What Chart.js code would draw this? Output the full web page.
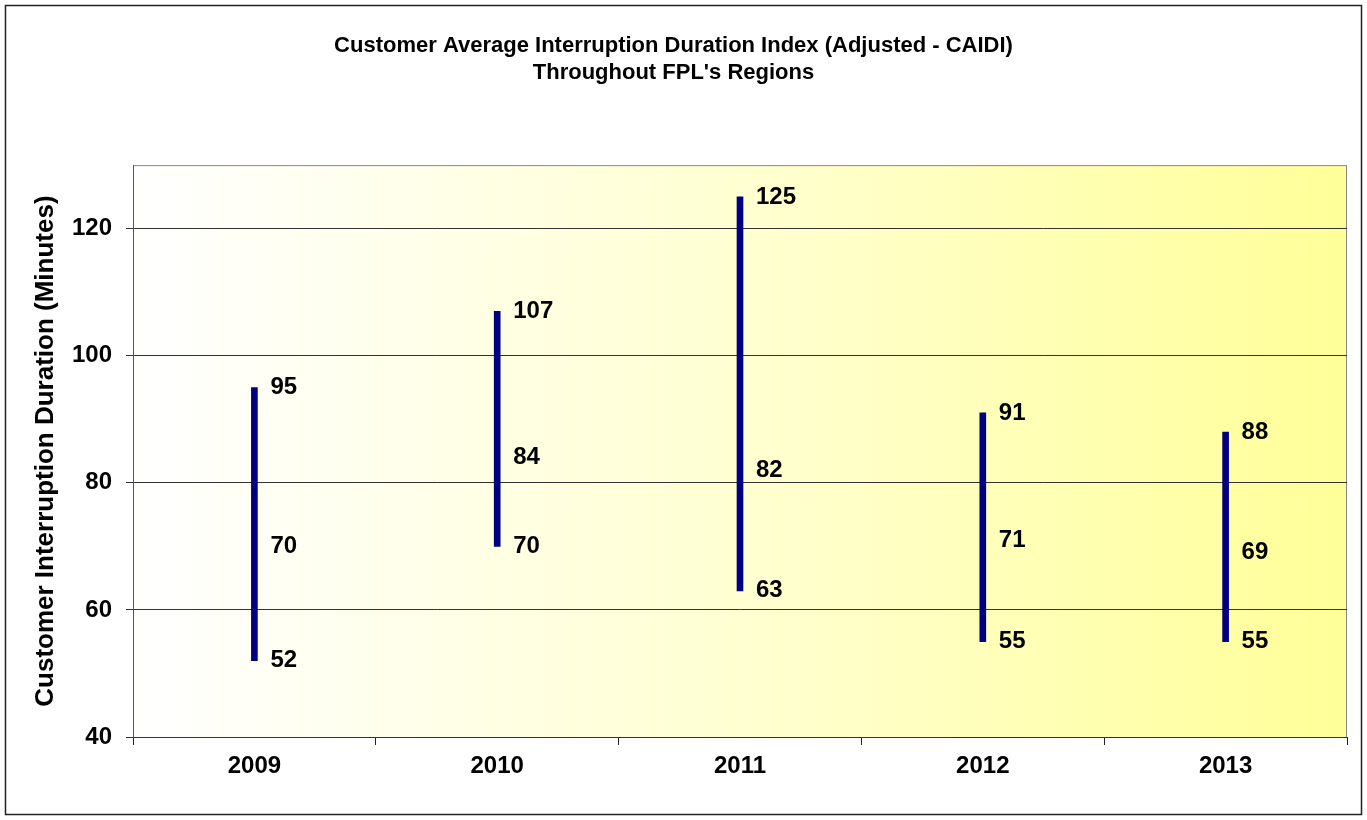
<!DOCTYPE html>
<html>
<head>
<meta charset="utf-8">
<script src="https://cdn.jsdelivr.net/npm/chart.js@4"></script>
<style>
  html, body { margin: 0; padding: 0; background: #fff; }
</style>
</head>
<body>
<canvas id="caidiChart" width="1367" height="820"></canvas>
<script>
// CAIDI by year: high / average / low across regions (minutes)
const years = ["2009", "2010", "2011", "2012", "2013"];
const highs = [95, 107, 125, 91, 88];
const avgs = [70, 84, 82, 71, 69];
const lows = [52, 70, 63, 55, 55];
const yTicks = [40, 60, 80, 100, 120];

const FONT = "'Liberation Sans Narrow', 'Arial Narrow', 'Liberation Sans', Arial, sans-serif";

// page frame + yellow gradient behind the plot
const backdrop = {
  id: "backdrop",
  beforeDraw(chart) {
    const { ctx, chartArea: a, width, height } = chart;
    ctx.save();
    ctx.fillStyle = "#fff";
    ctx.fillRect(0, 0, width, height);
    ctx.strokeStyle = "#222";
    ctx.lineWidth = 1.5;
    ctx.strokeRect(5.5, 5.5, width - 11, height - 11);
    const g = ctx.createLinearGradient(a.left, 0, a.right, 0);
    g.addColorStop(0, "#ffffff");
    g.addColorStop(0.5, "#ffffd2");
    g.addColorStop(1, "#ffff99");
    ctx.fillStyle = g;
    ctx.fillRect(a.left, a.top, a.right - a.left, a.bottom - a.top);
    ctx.strokeStyle = "#888";
    ctx.lineWidth = 1;
    ctx.strokeRect(a.left + 0.5, a.top + 0.5, a.right - a.left - 1, a.bottom - a.top);
    ctx.restore();
  }
};

// value labels to the right of each bar
const hlcLabels = {
  id: "hlcLabels",
  afterDatasetsDraw(chart) {
    const { ctx, scales: { x, y } } = chart;
    ctx.save();
    ctx.font = "bold 24px " + FONT;
    ctx.fillStyle = "#000";
    ctx.textAlign = "left";
    ctx.textBaseline = "middle";
    years.forEach((yr, i) => {
      const px = x.getPixelForValue(i) + 16;
      [highs[i], avgs[i], lows[i]].forEach(v => {
        ctx.fillText(String(v), px, y.getPixelForValue(v));
      });
    });
    ctx.restore();
  }
};

new Chart(document.getElementById("caidiChart"), {
  type: "bar",
  data: {
    labels: years,
    datasets: [
      {
        label: "Range",
        data: years.map((yr, i) => [lows[i], highs[i]]),
        backgroundColor: "#000080",
        barThickness: 6,
      },
    ],
  },
  options: {
    responsive: false,
    animation: false,
    layout: { padding: { left: 0, right: 20, top: 0, bottom: 0 } },
    plugins: {
      legend: { display: false },
      tooltip: { enabled: false },
      title: {
        display: true,
        text: ["Customer Average Interruption Duration Index (Adjusted - CAIDI)", "Throughout FPL's Regions"],
        color: "#000",
        font: { family: FONT, size: 22, weight: "bold", lineHeight: 1.23 },
        padding: { top: 32, bottom: 79 },
      },
    },
    scales: {
      x: {
        grid: { drawOnChartArea: false, drawTicks: true, tickLength: 8, color: "#222", offset: true },
        border: { color: "#333", width: 1 },
        ticks: { color: "#000", padding: 7, font: { family: FONT, size: 24, weight: "bold" } },
        afterFit(s) { s.height = 83; },
      },
      y: {
        min: 40,
        max: 130,
        afterBuildTicks(s) { s.ticks = yTicks.map(v => ({ value: v })); },
        grid: { color: "#333", lineWidth: 1, tickLength: 7 },
        border: { color: "#555", width: 1 },
        ticks: { color: "#000", padding: 14, font: { family: FONT, size: 24, weight: "bold" } },
        title: {
          display: true,
          text: "Customer Interruption Duration (Minutes)",
          color: "#000",
          font: { family: FONT, size: 26, weight: "bold", lineHeight: 1.2 },
          padding: { top: 30, bottom: 0 },
        },
        afterFit(s) { s.width = 133; },
      },
    },
  },
  plugins: [backdrop, hlcLabels],
});
</script>
</body>
</html>
